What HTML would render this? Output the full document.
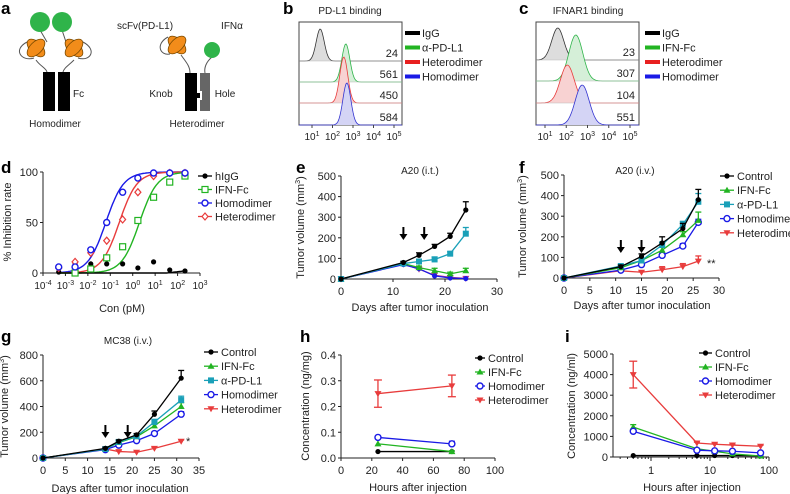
<!DOCTYPE html>
<html><head><meta charset="utf-8"><style>
html,body{margin:0;padding:0;background:#fff}
svg{display:block;font-family:"Liberation Sans",sans-serif}
</style></head><body>
<svg id="fig" width="790" height="494" viewBox="0 0 790 494"></svg>
<script>
// ---------- DATA ----------
const bLabels=['IgG','α-PD-L1','Heterodimer','Homodimer'];
const bValues=['24','561','450','584'];
const bPeaks=[1.4,2.65,2.55,2.7];
const bHeights=[32,38,46,42];
const cLabels=['IgG','IFN-Fc','Heterodimer','Homodimer'];
const cValues=['23','307','104','551'];
const cPeaks=[1.6,2.45,2.05,2.75];
const cHeights=[32,46,38,40];

const dLogX=[-3.3,-2.57,-1.87,-1.16,-0.45,0.23,0.93,1.65,2.33];
const dIgG=[1,9,9,9,9,5,11,3,2];
const dIFN=[null,0,4,15,26,52,75,90,96];
const dHomo=[6,6,23,50,80,94,99,99,99];
const dHetero=[5,11,20,32,53,80,96,99,99];
const dEC50=[-1.2,-0.6,0.3];

const eDays=[0,12,15,18,21,24];
const eControl=[0,80,115,158,207,335], eControlErr=[0,5,12,10,15,40];
const ePDL1=[0,75,85,95,123,220], ePDL1Err=[0,5,8,12,10,30];
const eIFN=[0,75,55,40,25,40], eIFNErr=[0,5,8,12,8,12];
const eHomo=[0,70,50,15,5,2], eHetero=[0,72,48,18,8,3];
const eArrows=[12,16];

const fDays=[0,11,15,19,23,26];
const fControl=[0,55,105,170,240,380], fControlErr=[0,8,12,30,25,50];
const fIFN=[0,50,85,135,210,280], fIFNErr=[0,6,8,15,15,40];
const fPDL1=[0,58,85,160,260,370], fPDL1Err=[0,6,8,15,15,40];
const fHomo=[0,38,65,110,155,270], fHomoErr=[0,5,8,10,12,15];
const fHetero=[0,35,28,40,55,82], fHeteroErr=[0,5,5,15,15,25];
const fArrows=[11,15];

const gDays=[0,14,17,21,25,31];
const gControl=[0,75,130,180,340,620], gControlErr=[0,8,10,10,25,60];
const gIFN=[0,70,120,165,250,400], gIFNErr=[0,5,8,10,15,30];
const gPDL1=[0,70,125,170,280,450], gPDL1Err=[0,5,8,10,20,30];
const gHomo=[0,65,100,135,190,340], gHomoErr=[0,5,8,8,12,20];
const gHetero=[0,70,50,45,75,130], gHeteroErr=[0,5,5,5,8,10];
const gArrows=[14,19];

const hTimes=[24,72];
const hControl=[0.025,0.025], hIFN=[0.055,0.025], hHomo=[0.08,0.055], hHetero=[0.25,0.28];
const hHeteroErr=[0.053,0.042], hIFNErr=[0.02,0.003], hHomoErr=[0.004,0.01];

const iTimes=[0.5,6,12,24,72];
const iControl=[70,70,70,70,60], iIFN=[1450,400,280,150,50], iHomo=[1250,330,300,280,200], iHetero=[4000,680,620,580,520];
const iHeteroErr=[650,40,40,40,50], iIFNErr=[120,20,20,20,10];

const COL={ctrl:'#000',ifn:'#22b422',pdl1:'#1aa0b8',homo:'#1a1ae6',het:'#e83c3c'};
// ---------- HELPERS ----------
const NS='http://www.w3.org/2000/svg', svg=document.getElementById('fig');
function mk(tag,attrs,parent){const e=document.createElementNS(NS,tag);for(const k in attrs)e.setAttribute(k,attrs[k]);(parent||svg).appendChild(e);return e;}
function T(x,y,s,size,anchor,parent,extra){const e=mk('text',Object.assign({x:x,y:y,'font-size':size||11,'text-anchor':anchor||'start',fill:'#222'},extra||{}),parent);e.textContent=s;return e;}
function group(name){const g=mk('g',{});return g;}
function sup(x,y,base,exp,size,g){const t=mk('text',{x:x,y:y,'font-size':size,'text-anchor':'middle',fill:'#222'},g);const a=mk('tspan',{},t);a.textContent=base;const b=mk('tspan',{dy:-4,'font-size':size*0.7},t);b.textContent=exp;return t;}
function marker(g,type,x,y,c){
  const s=3;let m;
  if(type==='dot')m=mk('circle',{cx:x,cy:y,r:2.6,fill:c},g);
  else if(type==='ocircle')m=mk('circle',{cx:x,cy:y,r:3,fill:'#fff',stroke:c,'stroke-width':1.4},g);
  else if(type==='osquare')m=mk('rect',{x:x-3,y:y-3,width:6,height:6,fill:'#fff',stroke:c,'stroke-width':1.2},g);
  else if(type==='square')m=mk('rect',{x:x-s,y:y-s,width:6,height:6,fill:c},g);
  else if(type==='tri')m=mk('path',{d:`M${x},${y-3.5}L${x+3.5},${y+2.5}L${x-3.5},${y+2.5}Z`,fill:c},g);
  else if(type==='itri')m=mk('path',{d:`M${x},${y+3.5}L${x+3.5},${y-2.5}L${x-3.5},${y-2.5}Z`,fill:c},g);
  else if(type==='odiam')m=mk('path',{d:`M${x},${y-3.5}L${x+3},${y}L${x},${y+3.5}L${x-3},${y}Z`,fill:'#fff',stroke:c,'stroke-width':1.2},g);
  
  
  return m;
}
function series(g,xs,ys,errs,sx,sy,c,type,name,lw){
  const sg=mk('g',{},g);
  const pts=[];xs.forEach((x,i)=>{if(ys[i]!=null)pts.push([sx(x),sy(ys[i])]);});
  const pl=mk('polyline',{points:pts.map(p=>p.join(',')).join(' '),fill:'none',stroke:c,'stroke-width':lw||1.3},sg);
  
  if(errs)xs.forEach((x,i)=>{if(!errs[i])return;const X=sx(x),Y1=sy(ys[i]+errs[i]);
    mk('line',{x1:X,y1:sy(ys[i]),x2:X,y2:Y1,stroke:c,'stroke-width':1.3},sg);mk('line',{x1:X-3,y1:Y1,x2:X+3,y2:Y1,stroke:c,'stroke-width':1.3},sg);});
  xs.forEach((x,i)=>{if(ys[i]!=null)marker(sg,type,sx(x),sy(ys[i]),c);});
}
function yAxis(g,x,y0,y1,ticks,sy,fmt,size){
  mk('line',{x1:x,y1:y0,x2:x,y2:y1,stroke:'#222','stroke-width':1},g);
  ticks.forEach(t=>{const Y=sy(t);mk('line',{x1:x-3,y1:Y,x2:x,y2:Y,stroke:'#222'},g);T(x-5,Y+4,fmt?fmt(t):String(t),size||11,'end',g);});
}
function xAxis(g,y,x0,x1,ticks,sx,size){
  mk('line',{x1:x0,y1:y,x2:x1,y2:y,stroke:'#222','stroke-width':1},g);
  ticks.forEach(t=>{const X=sx(t);mk('line',{x1:X,y1:y,x2:X,y2:y+3,stroke:'#222'},g);T(X,y+16,String(t),size||11,'middle',g);});
}
function ytitle(g,x,y,s,size){const t=T(x,y,s,size||11,'middle',g,{transform:`rotate(-90 ${x} ${y})`});return t;}
function xtitle(g,x,y,s){const t=T(x,y,s,11,'middle',g);return t;}
function legend(g,x,y,dy,items,lineLen){
  items.forEach((it,i)=>{const e=mk('g',{},g);
    const Y=y+i*dy;
    if(it.bar){mk('rect',{x:x,y:Y-2,width:15,height:4,fill:it.c},e);}
    else{mk('line',{x1:x,y1:Y,x2:x+(lineLen||14),y2:Y,stroke:it.c,'stroke-width':1.3},e);marker(e,it.t,x+(lineLen||14)/2,Y,it.c);}
    T(x+(lineLen||14)+3,Y+4,it.n,11,'start',e);});
}
function arrow(g,X,ytop){const a=mk('path',{d:`M${X},${ytop}L${X},${ytop+9}`,stroke:'#000','stroke-width':2},g);
  mk('path',{d:`M${X-4},${ytop+7}L${X+4},${ytop+7}L${X},${ytop+13}Z`,fill:'#000'},g);
  }
function letter(s,x,y){const t=T(x,y,s,17,'start',svg,{'font-weight':'bold',fill:'#000'});}

// ---------- PANEL A (schematic) ----------
(function(){
  const g=group('panel-a-schematic');
  function scfv(cx,cy){mk('ellipse',{cx:cx,cy:cy,rx:11,ry:6,fill:'#f28c1a',stroke:'#7a4a00','stroke-width':0.8,transform:`rotate(45 ${cx} ${cy})`},g);
    mk('ellipse',{cx:cx,cy:cy,rx:11,ry:6,fill:'#f28c1a',stroke:'#7a4a00','stroke-width':0.8,transform:`rotate(-45 ${cx} ${cy})`},g);}
  mk('path',{d:'M27,42 C12,50 22,62 34,58 M36,60 C40,66 46,68 47,72',fill:'none',stroke:'#555'},g);
  mk('path',{d:'M83,42 C98,50 90,62 78,58 M74,60 C68,66 64,68 63,72',fill:'none',stroke:'#555'},g);
  mk('path',{d:'M40,30 L47,42 M62,30 L66,42',fill:'none',stroke:'#555'},g);
  mk('circle',{cx:40,cy:22,r:10,fill:'#2fb44a'},g);mk('circle',{cx:62,cy:22,r:10,fill:'#2fb44a'},g);
  scfv(36,48);scfv(74,48);
  mk('rect',{x:43,y:72,width:12,height:39,fill:'#000'},g);mk('rect',{x:58,y:72,width:12,height:39,fill:'#000'},g);
  T(73,97,'Fc',10,'start',g);T(55,127,'Homodimer',10,'middle',g);
  mk('path',{d:'M168,37 C155,44 160,56 170,54 M181,55 C186,62 190,66 190,73 M212,57 C206,62 204,68 205,73',fill:'none',stroke:'#555'},g);
  scfv(177,45);mk('circle',{cx:212,cy:50,r:8,fill:'#2fb44a'},g);
  mk('path',{d:'M185,73 H197 V93 H200 V98 H197 V111 H185 Z',fill:'#000'},g);
  mk('path',{d:'M200,73 H210 V111 H200 V100 H202 V91 H200 Z',fill:'#666'},g);
  T(161,97,'Knob',10,'middle',g);T(225,97,'Hole',10,'middle',g);
  T(197,127,'Heterodimer',10,'middle',g);T(145,29,'scFv(PD-L1)',10,'middle',g);T(232,29,'IFNα',10,'middle',g);
})();

// ---------- PANELS B & C (histograms) ----------
function histo(name,x0,x1,yTop,bases,peaks,heights,sigma,vals,labels,x10,dec,title,titleX,legX){
  const g=group(name);const cols=['#333','#2fb44a','#e83c3c','#3434d0'];const fills=['#ddd','#d5efd8','#f8d2d2','#d4d4f5'];
  const sx=l=>x10+(l-1)*dec;
  mk('rect',{x:x0,y:yTop,width:x1-x0,height:bases[3]-yTop,fill:'none',stroke:'#444'},g);
  const t=T(titleX,14,title,10,'middle',g);
  peaks.forEach((p,i)=>{const b=bases[i];let d=`M${x0},${b}`;
    for(let X=x0;X<=x1;X+=1){const z=(X-sx(p))/sigma[i];d+=`L${X},${(b-heights[i]*Math.exp(-z*z/2)).toFixed(1)}`;}
    mk('path',{d:d+`L${x1},${b}Z`,fill:fills[i],stroke:'none'},g);
    const l=mk('path',{d:d,fill:'none',stroke:cols[i],'stroke-width':0.8},g);
    
    if(i<3)mk('line',{x1:x0,y1:b,x2:x1,y2:b,stroke:'#bbb','stroke-width':0.6},g);
    T(x1-4,b-4,vals[i],11,'end',g);});
  for(let e=1;e<=5;e++){sup(sx(e),bases[3]+15,'10',String(e),10,g);mk('line',{x1:sx(e),y1:bases[3],x2:sx(e),y2:bases[3]+3,stroke:'#444'},g);}
  legend(g,legX,33,14.5,labels.map((n,i)=>({n:n,c:['#000','#22b422','#e82020','#1a1ae6'][i],bar:1})));
}
histo('panel-b-pdl1-binding',299,402,22,[61,82,103,125],bPeaks,bHeights,[4,4,4,4],bValues,bLabels,312,20.5,'PD-L1 binding',350,405);
histo('panel-c-ifnar1-binding',536,639,22,[60,81,103,125],cPeaks,cHeights,[6,7,7,7],cValues,cLabels,545,21.25,'IFNAR1 binding',588,645);

// ---------- PANEL D ----------
(function(){
  const g=group('panel-d-inhibition');
  const sx=l=>43+(l+4)*22.43, sy=v=>273-v*1.01;
  yAxis(g,43,172,273,[0,50,100],sy);
  mk('line',{x1:43,y1:273,x2:200,y2:273,stroke:'#222'},g);
  for(let e=-4;e<=3;e++){mk('line',{x1:sx(e),y1:273,x2:sx(e),y2:276,stroke:'#222'},g);sup(sx(e),289,'10',String(e),10,g);}
  xtitle(g,122,312,'Con (pM)');ytitle(g,11,222,'% Inhibition rate');
  const cols=[COL.homo,COL.het,COL.ifn];
  dEC50.forEach((ec,k)=>{let d='';for(let l=-3.3;l<=2.35;l+=0.05){const v=100/(1+Math.pow(10,(ec-l)*1.1));d+=(d?'L':'M')+sx(l).toFixed(1)+','+sy(v).toFixed(1);}
    const p=mk('path',{d:d,fill:'none',stroke:cols[k],'stroke-width':1.4},g);});
  let d='';for(let l=-3.3;l<=2.35;l+=0.05){const v=l>1.5?(l-1.5)*2.5:0;d+=(d?'L':'M')+sx(l).toFixed(1)+','+sy(v).toFixed(1);}
  mk('path',{d:d,fill:'none',stroke:'#000','stroke-width':1.4},g);
  const pts=(ys,c,t,n)=>{const sg=mk('g',{},g);dLogX.forEach((l,i)=>{if(ys[i]!=null)marker(sg,t,sx(l),sy(ys[i]),c);});};
  pts(dIgG,'#000','dot','series-higg');pts(dIFN,COL.ifn,'osquare','series-ifn-fc');pts(dHetero,COL.het,'odiam','series-heterodimer');pts(dHomo,COL.homo,'ocircle','series-homodimer');
  legend(g,198,176,13.5,[{n:'hIgG',c:'#000',t:'dot'},{n:'IFN-Fc',c:COL.ifn,t:'osquare'},{n:'Homodimer',c:COL.homo,t:'ocircle'},{n:'Heterodimer',c:COL.het,t:'odiam'}]);
})();

// ---------- TUMOR PANELS ----------
function tumor(name,X0,X1,xmax,xticks,Y0,Y1,ymax,yticks,days,S,arrows,arrowY,title,titleX,titleY,ytX,xtX,xtY,leg,star){
  const g=group(name);
  const sx=v=>X0+(X1-X0)*v/xmax, sy=v=>Y0-(Y0-Y1)*v/ymax;
  yAxis(g,X0,Y1,Y0,yticks,sy);xAxis(g,Y0,X0,X1,xticks,sx);
  const tt=T(titleX,titleY,title,10,'middle',g);
  const yt=ytitle(g,ytX,(Y0+Y1)/2,'');const a=mk('tspan',{},yt);a.textContent='Tumor volume (mm';const b=mk('tspan',{dy:-4,'font-size':7},yt);b.textContent='3';const c=mk('tspan',{dy:4},yt);c.textContent=')';
  xtitle(g,xtX,xtY,'Days after tumor inoculation');
  S.forEach(s=>series(g,days,s.y,s.e,sx,sy,s.c,s.t,s.n));
  arrows.forEach(d=>arrow(g,sx(d),arrowY));
  if(leg)legend(g,leg[0],leg[1],14.2,S.slice().sort((p,q)=>p.o-q.o).map(s=>({n:s.ln,c:s.c,t:s.t})));
  if(star)T(star[0],star[1],star[2],11,'start',g);
}
tumor('panel-e-a20-it',341,497,30,[0,10,20,30],279,176,500,[0,100,200,300,400,500],eDays,[
  {y:eHetero,c:'#c0308a',t:'itri',n:'series-heterodimer'},
  {y:eHomo,c:COL.homo,t:'dot',n:'series-homodimer'},
  {y:eIFN,e:eIFNErr,c:COL.ifn,t:'tri',n:'series-ifn-fc'},
  {y:ePDL1,e:ePDL1Err,c:COL.pdl1,t:'square',n:'series-anti-pdl1'},
  {y:eControl,e:eControlErr,c:'#000',t:'dot',n:'series-control'}],eArrows,227,'A20 (i.t.)',420,174,304,420,311,null,null);
tumor('panel-f-a20-iv',564,719,30,[0,5,10,15,20,25,30],278,175,500,[0,100,200,300,400,500],fDays,[
  {y:fHetero,e:fHeteroErr,c:COL.het,t:'itri',n:'series-heterodimer',ln:'Heterodimer',o:4},
  {y:fHomo,e:fHomoErr,c:COL.homo,t:'ocircle',n:'series-homodimer',ln:'Homodimer',o:3},
  {y:fIFN,e:fIFNErr,c:COL.ifn,t:'tri',n:'series-ifn-fc',ln:'IFN-Fc',o:1},
  {y:fPDL1,e:fPDL1Err,c:COL.pdl1,t:'square',n:'series-anti-pdl1',ln:'α-PD-L1',o:2},
  {y:fControl,e:fControlErr,c:'#000',t:'dot',n:'series-control',ln:'Control',o:0}],fArrows,240,'A20 (i.v.)',635,174,526,642,309,[720,176],[707,267,'**']);
tumor('panel-g-mc38-iv',43,199,35,[0,5,10,15,20,25,30,35],458,355,800,[0,200,400,600,800],gDays,[
  {y:gHetero,e:gHeteroErr,c:COL.het,t:'itri',n:'series-heterodimer',ln:'Heterodimer',o:4},
  {y:gHomo,e:gHomoErr,c:COL.homo,t:'ocircle',n:'series-homodimer',ln:'Homodimer',o:3},
  {y:gIFN,e:gIFNErr,c:COL.ifn,t:'tri',n:'series-ifn-fc',ln:'IFN-Fc',o:1},
  {y:gPDL1,e:gPDL1Err,c:COL.pdl1,t:'square',n:'series-anti-pdl1',ln:'α-PD-L1',o:2},
  {y:gControl,e:gControlErr,c:'#000',t:'dot',n:'series-control',ln:'Control',o:0}],gArrows,425,'MC38 (i.v.)',128,344,8,120,492,[204,352],[186,445,'*']);

// ---------- PANEL H ----------
(function(){
  const g=group('panel-h-tissue-concentration');
  const sx=v=>341+v*1.54, sy=v=>458-v*257.5;
  yAxis(g,341,355,458,[0,0.1,0.2,0.3,0.4],sy,v=>v.toFixed(1));xAxis(g,458,341,495,[0,20,40,60,80,100],sx);
  ytitle(g,309,406,'Concentration (ng/mg)');xtitle(g,418,491,'Hours after injection');
  series(g,hTimes,hControl,null,sx,sy,'#000','dot','series-control');
  series(g,hTimes,hIFN,hIFNErr,sx,sy,COL.ifn,'tri','series-ifn-fc');
  series(g,hTimes,hHomo,hHomoErr,sx,sy,COL.homo,'ocircle','series-homodimer');
  const sg=mk('g',{},g);
  hTimes.forEach((t,i)=>{const X=sx(t);mk('line',{x1:X,y1:sy(hHetero[i]-hHeteroErr[i]),x2:X,y2:sy(hHetero[i]+hHeteroErr[i]),stroke:COL.het,'stroke-width':1.3},sg);
    [1,-1].forEach(s=>{const Y=sy(hHetero[i]+s*hHeteroErr[i]);mk('line',{x1:X-4,y1:Y,x2:X+4,y2:Y,stroke:COL.het,'stroke-width':1.3},sg);});});
  series(g,hTimes,hHetero,null,sx,sy,COL.het,'itri','series-heterodimer');
  legend(g,475,358,14,[{n:'Control',c:'#000',t:'dot'},{n:'IFN-Fc',c:COL.ifn,t:'tri'},{n:'Homodimer',c:COL.homo,t:'ocircle'},{n:'Heterodimer',c:COL.het,t:'itri'}],10);
})();

// ---------- PANEL I ----------
(function(){
  const g=group('panel-i-serum-concentration');
  const sx=v=>651+Math.log10(v)*59, sy=v=>457-v*0.0206;
  yAxis(g,613,354,457,[0,1000,2000,3000,4000,5000],sy);
  mk('line',{x1:613,y1:457,x2:769,y2:457,stroke:'#222'},g);
  [0.3,0.4,0.5,0.6,0.7,0.8,0.9,1,2,3,4,5,6,7,8,9,10,20,30,40,50,60,70,80,90,100].forEach(v=>{const X=sx(v),big=[1,10,100].includes(v);
    mk('line',{x1:X,y1:457,x2:X,y2:457+(big?4:2),stroke:'#222'},g);if(big)T(X,474,String(v),11,'middle',g);});
  ytitle(g,575,406,'Concentration (ng/ml)');xtitle(g,692,491,'Hours after injection');
  series(g,iTimes,iControl,null,sx,sy,'#000','dot','series-control');
  series(g,iTimes,iIFN,iIFNErr,sx,sy,COL.ifn,'tri','series-ifn-fc');
  series(g,iTimes,iHomo,null,sx,sy,COL.homo,'ocircle','series-homodimer');
  const X=sx(iTimes[0]);[1,-1].forEach(s=>{const Y=sy(iHetero[0]+s*iHeteroErr[0]);mk('line',{x1:X,y1:sy(iHetero[0]),x2:X,y2:Y,stroke:COL.het,'stroke-width':1.3},g);mk('line',{x1:X-4,y1:Y,x2:X+4,y2:Y,stroke:COL.het,'stroke-width':1.3},g);});
  series(g,iTimes,iHetero,iHeteroErr.map((e,i)=>i?e:0),sx,sy,COL.het,'itri','series-heterodimer');
  legend(g,699,353,14,[{n:'Control',c:'#000',t:'dot'},{n:'IFN-Fc',c:COL.ifn,t:'tri'},{n:'Homodimer',c:COL.homo,t:'ocircle'},{n:'Heterodimer',c:COL.het,t:'itri'}],13);
})();

// ---------- PANEL LETTERS ----------
letter('a',1,14);letter('b',283,14);letter('c',519,14);letter('d',1,173);letter('e',296,173);letter('f',519,173);letter('g',1,342);letter('h',300,342);letter('i',565,342);
</script>
</body></html>
